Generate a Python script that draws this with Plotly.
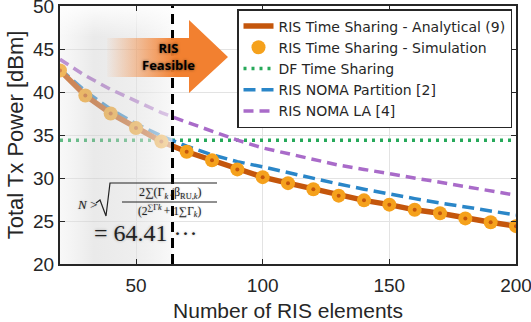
import plotly.graph_objects as go

# ---------------- data ----------------
N_ELEMENTS = [20, 30, 40, 50, 60, 70, 80, 90, 100, 110, 120, 130, 140, 150, 160, 170, 180, 190, 200]
RIS_TS_ANALYTICAL = [42.5, 39.6, 37.5, 35.8, 34.25, 33.05, 32.05, 31.0, 30.1, 29.4, 28.7, 27.95, 27.4, 26.9, 26.3, 25.9, 25.3, 24.85, 24.4]
RIS_TS_SIMULATION = [42.5, 39.6, 37.5, 35.8, 34.25, 33.05, 32.05, 31.0, 30.1, 29.4, 28.7, 27.95, 27.4, 26.9, 26.3, 25.9, 25.3, 24.85, 24.4]
DF_TIME_SHARING = [34.4, 34.4, 34.4, 34.4, 34.4, 34.4, 34.4, 34.4, 34.4, 34.4, 34.4, 34.4, 34.4, 34.4, 34.4, 34.4, 34.4, 34.4, 34.4]
RIS_NOMA_PARTITION = [42.7, 40.1, 38.0, 36.3, 34.9, 33.7, 32.7, 31.9, 31.3, 30.6, 29.9, 29.3, 28.7, 28.1, 27.6, 27.1, 26.6, 26.2, 25.7]
RIS_NOMA_LA = [43.8, 41.9, 40.3, 38.9, 37.6, 36.5, 35.4, 34.4, 33.5, 32.8, 32.1, 31.5, 31.0, 30.5, 30.0, 29.5, 29.0, 28.5, 28.0]

N_THRESHOLD = 64.41
X_RANGE = [20, 200]
Y_RANGE = [20, 50]
X_TICKS = [50, 100, 150, 200]
Y_TICKS = [20, 25, 30, 35, 40, 45, 50]

LEGEND_NAMES = [
    "RIS Time Sharing - Analytical (9)",
    "RIS Time Sharing - Simulation",
    "DF Time Sharing",
    "RIS NOMA Partition [2]",
    "RIS NOMA LA [4]",
]

# ---------------- styles ----------------
C_ANALYTIC = "#C4560C"
C_SIM = "#F5A11C"
C_DF = "#27A95A"
C_BLUE = "#2A86C8"
C_PURPLE = "#A96BC9"

W, H = 531, 322
L_PX, R_PX, T_PX, B_PX = 60, 516, 6, 264


def dx(px):
    return X_RANGE[0] + (px - L_PX) * (X_RANGE[1] - X_RANGE[0]) / (R_PX - L_PX)


def dy(py):
    return Y_RANGE[1] - (py - T_PX) * (Y_RANGE[1] - Y_RANGE[0]) / (B_PX - T_PX)


fig = go.Figure()

fig.add_trace(go.Scatter(x=N_ELEMENTS, y=DF_TIME_SHARING, mode="lines", name=LEGEND_NAMES[2],
                         line=dict(color=C_DF, width=3.5, dash="3px,5px"), legendrank=3))
fig.add_trace(go.Scatter(x=N_ELEMENTS, y=RIS_NOMA_LA, mode="lines", name=LEGEND_NAMES[4],
                         line=dict(color=C_PURPLE, width=3.5, dash="10px,6px"), legendrank=5))
fig.add_trace(go.Scatter(x=N_ELEMENTS, y=RIS_NOMA_PARTITION, mode="lines", name=LEGEND_NAMES[3],
                         line=dict(color=C_BLUE, width=3.5, dash="12px,6px"), legendrank=4))
fig.add_trace(go.Scatter(x=N_ELEMENTS, y=RIS_TS_ANALYTICAL, mode="lines", name=LEGEND_NAMES[0],
                         line=dict(color=C_ANALYTIC, width=5.5), legendrank=1))
fig.add_trace(go.Scatter(x=N_ELEMENTS, y=RIS_TS_SIMULATION, mode="markers", name=LEGEND_NAMES[1],
                         marker=dict(color=C_SIM, size=14, line=dict(width=0)), legendrank=2,
                         legendgroup="sim"))
fig.add_trace(go.Scatter(x=N_ELEMENTS, y=RIS_TS_SIMULATION, mode="markers", showlegend=False,
                         marker=dict(color=C_ANALYTIC, size=4, line=dict(width=0)), legendgroup="sim",
                         hoverinfo="skip"))

# shaded "infeasible" region overlay (horizontal gradient + top fade)
box_x = [X_RANGE[0], N_THRESHOLD, N_THRESHOLD, X_RANGE[0], X_RANGE[0]]
box_y = [Y_RANGE[0], Y_RANGE[0], Y_RANGE[1], Y_RANGE[1], Y_RANGE[0]]
fig.add_trace(go.Scatter(
    x=box_x, y=box_y, mode="lines", fill="toself", line=dict(width=0), showlegend=False, hoverinfo="skip",
    fillgradient=dict(type="horizontal", colorscale=[
        [0.0, "rgba(232,232,232,0.30)"],
        [0.3, "rgba(208,208,208,0.45)"],
        [0.7, "rgba(226,226,226,0.55)"],
        [1.0, "rgba(246,246,246,0.68)"],
    ])))
fig.add_trace(go.Scatter(
    x=box_x, y=box_y, mode="lines", fill="toself", line=dict(width=0), showlegend=False, hoverinfo="skip",
    fillgradient=dict(type="vertical", colorscale=[
        [0.0, "rgba(255,255,255,0.0)"],
        [0.88, "rgba(255,255,255,0.0)"],
        [1.0, "rgba(255,255,255,0.85)"],
    ])))

# vertical threshold line
fig.add_trace(go.Scatter(x=[N_THRESHOLD, N_THRESHOLD], y=Y_RANGE, mode="lines", showlegend=False,
                         hoverinfo="skip", line=dict(color="black", width=3, dash="10px,6px")))

# arrow "RIS Feasible"
ax_px = [107, 189, 189, 228, 189, 189, 107, 107]
ay_px = [38, 38, 20, 57, 93, 77, 77, 38]
fig.add_trace(go.Scatter(
    x=[dx(v) for v in ax_px], y=[dy(v) for v in ay_px], mode="lines", fill="toself",
    line=dict(width=0), showlegend=False, hoverinfo="skip",
    fillgradient=dict(type="horizontal", start=dx(105), stop=dx(176), colorscale=[
        [0.0, "rgba(242,128,48,0)"], [1.0, "rgba(242,128,48,1)"]])))

FORM_FONT = "Liberation Serif"
annotations = [
    dict(x=dx(168), y=dy(56.5), text="<b>RIS</b><br><b>Feasible</b>", showarrow=False,
         font=dict(family="Open Sans", size=13, color="black", shadow="0px 0px 3px rgba(0,0,0,0.55)")),
    dict(x=dx(87), y=dy(204), text="<i>N</i> >", showarrow=False,
         font=dict(family=FORM_FONT, size=13, color="#222", shadow="0px 0px 2px rgba(0,0,0,0.3)")),
    dict(x=dx(170), y=dy(193), text="2∑(Γ<sub><i>k</i></sub>\u2009/β<sub>RU,<i>k</i></sub>)", showarrow=False,
         font=dict(family=FORM_FONT, size=12, color="#222", shadow="0px 0px 2px rgba(0,0,0,0.3)")),
    dict(x=dx(169), y=dy(211), text="(2<sup>∑Γ<i>k</i></sup>\u2009+ 1∑Γ<sub><i>k</i></sub>)", showarrow=False,
         font=dict(family=FORM_FONT, size=11.5, color="#222", shadow="0px 0px 2px rgba(0,0,0,0.3)")),
    dict(x=dx(146), y=dy(233), text="= 64.41 ···", showarrow=False,
         font=dict(family=FORM_FONT, size=24, color="#222", shadow="0px 0px 3px rgba(0,0,0,0.3)")),
]

rad = [(96, 203), (100, 200), (106, 216), (110, 183), (217, 183)]
rad_path = "M " + " L ".join(f"{dx(a)},{dy(b)}" for a, b in rad)
shapes = [
    dict(type="path", xref="x", yref="y", path=rad_path, line=dict(color="#222", width=1.2), layer="above"),
    dict(type="line", xref="x", yref="y", x0=dx(122), x1=dx(217), y0=dy(202), y1=dy(202),
         line=dict(color="#222", width=1), layer="above"),
]

fig.update_layout(
    width=W, height=H,
    margin=dict(l=L_PX, r=W - R_PX, t=T_PX, b=H - B_PX, autoexpand=False),
    paper_bgcolor="white", plot_bgcolor="white",
    font=dict(family="Liberation Sans, Arial, sans-serif", color="#262626"),
    showlegend=True,
    legend=dict(x=(237 - L_PX) / (R_PX - L_PX), y=(B_PX - 9) / (B_PX - T_PX), xanchor="left", yanchor="top",
                bgcolor="white", bordercolor="#262626", borderwidth=1.5,
                font=dict(family="DejaVu Sans", size=14, color="#262626"),
                tracegroupgap=0, itemwidth=30),
    annotations=annotations,
    shapes=shapes,
)
fig.update_xaxes(range=X_RANGE, tickvals=X_TICKS, showgrid=True, gridcolor="#E3E3E3", gridwidth=1,
                 ticks="inside", ticklen=5, tickcolor="#262626", showline=True, linecolor="#262626",
                 linewidth=2, mirror="ticks", zeroline=False, tickfont=dict(size=19), automargin=False,
                 ticklabeloverflow="allow", ticklabelstandoff=3,
                 title=dict(text="Number of RIS elements", font=dict(size=21), standoff=9))
fig.update_yaxes(range=Y_RANGE, tickvals=Y_TICKS, showgrid=True, gridcolor="#E3E3E3", gridwidth=1,
                 ticks="inside", ticklen=5, tickcolor="#262626", showline=True, linecolor="#262626",
                 linewidth=2, mirror="ticks", zeroline=False, tickfont=dict(size=19), automargin=False,
                 ticklabeloverflow="allow", ticklabelstandoff=0,
                 title=dict(text="Total Tx Power [dBm]", font=dict(size=22), standoff=3))

fig.write_html("out.html", config={"displayModeBar": False},
               post_script="document.body.style.margin='0px';")
